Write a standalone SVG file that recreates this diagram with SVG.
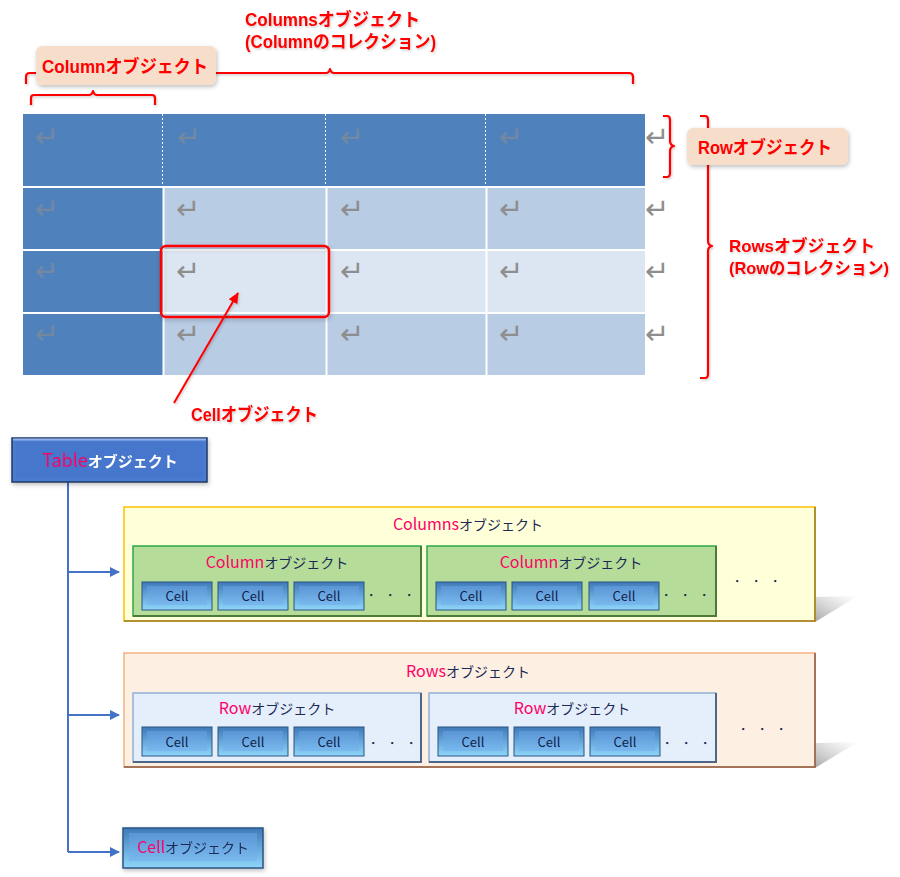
<svg xmlns="http://www.w3.org/2000/svg" width="900" height="877" viewBox="0 0 900 877">
<defs>
<style>
.lbl{font-family:"Liberation Sans","Noto Sans CJK JP",sans-serif;font-weight:bold;font-size:18px;fill:#FF0000;}
.lbs{font-size:17px;}
.ret{font-family:"DejaVu Sans",sans-serif;font-size:29px;fill:#8E8E8E;}
.brace{fill:none;stroke:#FF0000;stroke-width:2.2;stroke-linejoin:round;}
.t{font-family:"Noto Sans CJK JP",sans-serif;font-size:14px;fill:#1B2A55;text-anchor:middle;}
.mg{fill:#FF0066;font-size:16px;}
.cellt{font-family:"Noto Sans CJK JP",sans-serif;font-size:13px;fill:#10224A;text-anchor:middle;}
.dots{font-family:"Liberation Sans",sans-serif;font-size:14px;fill:#10224A;text-anchor:middle;letter-spacing:5px;}
.conn{fill:none;stroke:#4472C4;stroke-width:2;}
</style>
<linearGradient id="cellG" x1="0" y1="0" x2="0" y2="1">
<stop offset="0" stop-color="#3F78B8"/><stop offset="1" stop-color="#8ED6FA"/>
</linearGradient>
<linearGradient id="cellI" x1="0" y1="0" x2="0" y2="1">
<stop offset="0" stop-color="#5A95D4"/><stop offset="1" stop-color="#79B9EE"/>
</linearGradient>
<linearGradient id="shadowG" x1="0" y1="1" x2="1" y2="0">
<stop offset="0" stop-color="#909090" stop-opacity="0.8"/><stop offset="1" stop-color="#C0C0C0" stop-opacity="0"/>
</linearGradient>
<filter id="sh" x="-10%" y="-20%" width="130%" height="160%">
<feDropShadow dx="1" dy="2" stdDeviation="2" flood-color="#000" flood-opacity="0.25"/>
</filter>
<filter id="tsh" x="-5%" y="-20%" width="110%" height="150%">
<feDropShadow dx="1" dy="1.5" stdDeviation="1.2" flood-color="#000" flood-opacity="0.2"/>
</filter>
<marker id="arrB" markerWidth="10" markerHeight="10" refX="9" refY="5" orient="auto" markerUnits="userSpaceOnUse">
<path d="M0,0 L10,5 L0,10 Z" fill="#4472C4"/>
</marker>
<marker id="arrR" markerWidth="12" markerHeight="12" refX="10" refY="6" orient="auto" markerUnits="userSpaceOnUse">
<path d="M0,1 L11,6 L0,11 Z" fill="#FF0000"/>
</marker>
</defs>
<rect width="900" height="877" fill="#FFFFFF"/>

<!-- Word table -->
<g id="word-table">
<rect x="23" y="114" width="622" height="261" fill="#4F81BD"/>
<rect x="164" y="188" width="481" height="61" fill="#B8CCE4"/>
<rect x="164" y="251" width="481" height="61" fill="#DCE6F2"/>
<rect x="164" y="314" width="481" height="61" fill="#B8CCE4"/>
<g stroke="#FFFFFF" stroke-width="2">
<line x1="23" y1="187" x2="645" y2="187"/>
<line x1="23" y1="250" x2="645" y2="250"/>
<line x1="23" y1="313" x2="645" y2="313"/>
<line x1="163.5" y1="187" x2="163.5" y2="375"/>
<line x1="326.5" y1="187" x2="326.5" y2="375"/>
<line x1="486.5" y1="187" x2="486.5" y2="375"/>
</g>
<g stroke="#FFFFFF" stroke-width="1" stroke-dasharray="2,2">
<line x1="162.5" y1="114" x2="162.5" y2="186"/>
<line x1="325.5" y1="114" x2="325.5" y2="186"/>
<line x1="485.5" y1="114" x2="485.5" y2="186"/>
</g>
<g class="ret">
<text x="35" y="147" opacity="0.6">↵</text><text x="177" y="147" opacity="0.6">↵</text><text x="340" y="147" opacity="0.6">↵</text><text x="499" y="147" opacity="0.6">↵</text>
<text x="35" y="219" opacity="0.6">↵</text><text x="176" y="219">↵</text><text x="340" y="219">↵</text><text x="499" y="219">↵</text>
<text x="35" y="281" opacity="0.6">↵</text><text x="176" y="281">↵</text><text x="340" y="281">↵</text><text x="499" y="281">↵</text>
<text x="35" y="344" opacity="0.6">↵</text><text x="176" y="344">↵</text><text x="340" y="344">↵</text><text x="499" y="344">↵</text>
<text x="645" y="147">↵</text><text x="645" y="219">↵</text><text x="645" y="281">↵</text><text x="645" y="344">↵</text>
</g>
<rect x="161" y="246" width="168" height="71" rx="5" fill="none" stroke="#FF0000" stroke-width="2.5" filter="url(#sh)"/>
</g>

<!-- braces -->
<g id="braces" filter="url(#tsh)">
<path class="brace" d="M26,84 L26,77 Q26,73 30,73 L326,73 Q329,73 330,69 Q331,73 334,73 L629,73 Q633,73 633,77 L633,84"/>
<path class="brace" d="M31,105 L31,98 Q31,95 34,95 L89,95 Q92,95 93,91 Q94,95 97,95 L152,95 Q155,95 155,98 L155,105"/>
<path class="brace" d="M663,116 L667,116 Q670,116 670,120 L670,141 Q670,145 674,146 Q670,147 670,151 L670,173 Q670,177 667,177 L663,177"/>
<path class="brace" d="M700,116 L705,116 Q708,116 708,120 L708,241 Q708,245 712,246 Q708,247 708,251 L708,374 Q708,378 705,378 L700,378"/>
</g>

<!-- labels -->
<g id="label-column">
<rect x="36" y="46" width="180" height="39" rx="6" fill="#F7DECB" filter="url(#sh)"/>
<text class="lbl" x="42" y="73" textLength="166" lengthAdjust="spacingAndGlyphs">Columnオブジェクト</text>
</g>
<g id="label-columns" filter="url(#tsh)">
<text class="lbl" x="245" y="26" textLength="175" lengthAdjust="spacingAndGlyphs">Columnsオブジェクト</text>
<text class="lbl" x="245" y="48" textLength="191" lengthAdjust="spacingAndGlyphs">(Columnのコレクション)</text>
</g>
<g id="label-row">
<rect x="687" y="128" width="161" height="37" rx="6" fill="#F7DECB" filter="url(#sh)"/>
<text class="lbl" x="698" y="154" textLength="134" lengthAdjust="spacingAndGlyphs">Rowオブジェクト</text>
</g>
<g id="label-rows" filter="url(#tsh)">
<text class="lbl lbs" x="729" y="252" textLength="146" lengthAdjust="spacingAndGlyphs">Rowsオブジェクト</text>
<text class="lbl lbs" x="729" y="274" textLength="160" lengthAdjust="spacingAndGlyphs">(Rowのコレクション)</text>
</g>
<g id="label-cell" filter="url(#tsh)">
<text class="lbl" x="191" y="421" textLength="127" lengthAdjust="spacingAndGlyphs">Cellオブジェクト</text>
<line x1="174" y1="403" x2="238" y2="293" stroke="#FF0000" stroke-width="2" marker-end="url(#arrR)"/>
</g>

<!-- connectors -->
<g id="connectors">
<path class="conn" d="M68,482 L68,852"/>
<path class="conn" d="M68,572 L119,572" marker-end="url(#arrB)"/>
<path class="conn" d="M68,715 L119,715" marker-end="url(#arrB)"/>
<path class="conn" d="M68,852 L119,852" marker-end="url(#arrB)"/>
</g>

<!-- Table object -->
<g id="table-obj" filter="url(#sh)">
<rect x="12" y="438" width="195" height="44" fill="#4A7CD0" stroke="#1F3864" stroke-width="1.5"/>
<rect x="16" y="442" width="187" height="36" fill="#4677CC"/>
<line x1="13" y1="439.5" x2="206" y2="439.5" stroke="#8FB0EA" stroke-width="2"/>
<text x="110" y="467" style="font-family:'Noto Sans CJK JP',sans-serif;font-size:15px;font-weight:bold;fill:#FFFFFF;text-anchor:middle"><tspan fill="#FF0066" font-size="18" font-weight="normal">Table</tspan>オブジェクト</text>
</g>

<!-- Columns object -->
<g id="columns-obj">
<polygon points="815,597 858,596 815,622" fill="url(#shadowG)"/>
<rect x="124" y="507" width="691" height="114" fill="#FFFFD9" stroke="#FFC000" stroke-width="1.5"/>
<path d="M815,507 L815,621 L124,621" fill="none" stroke="#9A7A30" stroke-width="1.5"/>
<text class="t" x="468" y="530"><tspan class="mg">Columns</tspan>オブジェクト</text>
<text class="dots" x="758" y="586">・・・</text>
</g>
<g id="column-obj-1">
<rect x="133" y="546" width="288" height="70" fill="#B5DC99" stroke="#2EA84A" stroke-width="1.5"/>
<path d="M421,546 L421,616 L133,616" fill="none" stroke="#4C7A38" stroke-width="2"/>
<text class="t" x="277" y="568"><tspan class="mg">Column</tspan>オブジェクト</text>
<text class="dots" x="392" y="600">・・・</text>
</g>
<g id="column-obj-2">
<rect x="427" y="546" width="289" height="70" fill="#B5DC99" stroke="#2EA84A" stroke-width="1.5"/>
<path d="M716,546 L716,616 L427,616" fill="none" stroke="#4C7A38" stroke-width="2"/>
<text class="t" x="571" y="568"><tspan class="mg">Column</tspan>オブジェクト</text>
<text class="dots" x="687" y="600">・・・</text>
</g>

<!-- Rows object -->
<g id="rows-obj">
<polygon points="815,743 858,742 815,768" fill="url(#shadowG)"/>
<rect x="124" y="653" width="691" height="114" fill="#FDEFE1" stroke="#F4B183" stroke-width="1.5"/>
<path d="M815,653 L815,767 L124,767" fill="none" stroke="#8A5A40" stroke-width="1.5"/>
<text class="t" x="468" y="677"><tspan class="mg">Rows</tspan>オブジェクト</text>
<text class="dots" x="764" y="734">・・・</text>
</g>
<g id="row-obj-1">
<rect x="133" y="693" width="288" height="69" fill="#E5EEFB" stroke="#8FB0D8" stroke-width="1.5"/>
<path d="M421,693 L421,762 L133,762" fill="none" stroke="#4D6788" stroke-width="2"/>
<text class="t" x="277" y="714"><tspan class="mg">Row</tspan>オブジェクト</text>
<text class="dots" x="394" y="748">・・・</text>
</g>
<g id="row-obj-2">
<rect x="429" y="693" width="287" height="69" fill="#E5EEFB" stroke="#8FB0D8" stroke-width="1.5"/>
<path d="M716,693 L716,762 L429,762" fill="none" stroke="#4D6788" stroke-width="2"/>
<text class="t" x="572" y="714"><tspan class="mg">Row</tspan>オブジェクト</text>
<text class="dots" x="688" y="748">・・・</text>
</g>

<!-- Cells -->
<g id="cells">
<g id="c1"><rect x="142" y="582" width="70" height="28" fill="url(#cellG)" stroke="#2A5582"/><rect x="147" y="586" width="60" height="19" fill="url(#cellI)"/><text class="cellt" x="177" y="601">Cell</text></g>
<g id="c2"><rect x="218" y="582" width="70" height="28" fill="url(#cellG)" stroke="#2A5582"/><rect x="223" y="586" width="60" height="19" fill="url(#cellI)"/><text class="cellt" x="253" y="601">Cell</text></g>
<g id="c3"><rect x="294" y="582" width="70" height="28" fill="url(#cellG)" stroke="#2A5582"/><rect x="299" y="586" width="60" height="19" fill="url(#cellI)"/><text class="cellt" x="329" y="601">Cell</text></g>
<g id="c4"><rect x="436" y="582" width="70" height="28" fill="url(#cellG)" stroke="#2A5582"/><rect x="441" y="586" width="60" height="19" fill="url(#cellI)"/><text class="cellt" x="471" y="601">Cell</text></g>
<g id="c5"><rect x="512" y="582" width="70" height="28" fill="url(#cellG)" stroke="#2A5582"/><rect x="517" y="586" width="60" height="19" fill="url(#cellI)"/><text class="cellt" x="547" y="601">Cell</text></g>
<g id="c6"><rect x="589" y="582" width="70" height="28" fill="url(#cellG)" stroke="#2A5582"/><rect x="594" y="586" width="60" height="19" fill="url(#cellI)"/><text class="cellt" x="624" y="601">Cell</text></g>
<g id="c7"><rect x="142" y="727" width="70" height="29" fill="url(#cellG)" stroke="#2A5582"/><rect x="147" y="731" width="60" height="20" fill="url(#cellI)"/><text class="cellt" x="177" y="747">Cell</text></g>
<g id="c8"><rect x="218" y="727" width="70" height="29" fill="url(#cellG)" stroke="#2A5582"/><rect x="223" y="731" width="60" height="20" fill="url(#cellI)"/><text class="cellt" x="253" y="747">Cell</text></g>
<g id="c9"><rect x="294" y="727" width="70" height="29" fill="url(#cellG)" stroke="#2A5582"/><rect x="299" y="731" width="60" height="20" fill="url(#cellI)"/><text class="cellt" x="329" y="747">Cell</text></g>
<g id="c10"><rect x="438" y="727" width="70" height="29" fill="url(#cellG)" stroke="#2A5582"/><rect x="443" y="731" width="60" height="20" fill="url(#cellI)"/><text class="cellt" x="473" y="747">Cell</text></g>
<g id="c11"><rect x="514" y="727" width="70" height="29" fill="url(#cellG)" stroke="#2A5582"/><rect x="519" y="731" width="60" height="20" fill="url(#cellI)"/><text class="cellt" x="549" y="747">Cell</text></g>
<g id="c12"><rect x="590" y="727" width="70" height="29" fill="url(#cellG)" stroke="#2A5582"/><rect x="595" y="731" width="60" height="20" fill="url(#cellI)"/><text class="cellt" x="625" y="747">Cell</text></g>
</g>

<!-- Cell object -->
<g id="cell-obj" filter="url(#sh)">
<rect x="123" y="828" width="140" height="40" fill="url(#cellG)" stroke="#2A5582" stroke-width="1.5"/>
<rect x="129" y="833" width="128" height="28" fill="url(#cellI)"/>
<text class="t" x="193" y="853"><tspan class="mg">Cell</tspan>オブジェクト</text>
</g>
</svg>
